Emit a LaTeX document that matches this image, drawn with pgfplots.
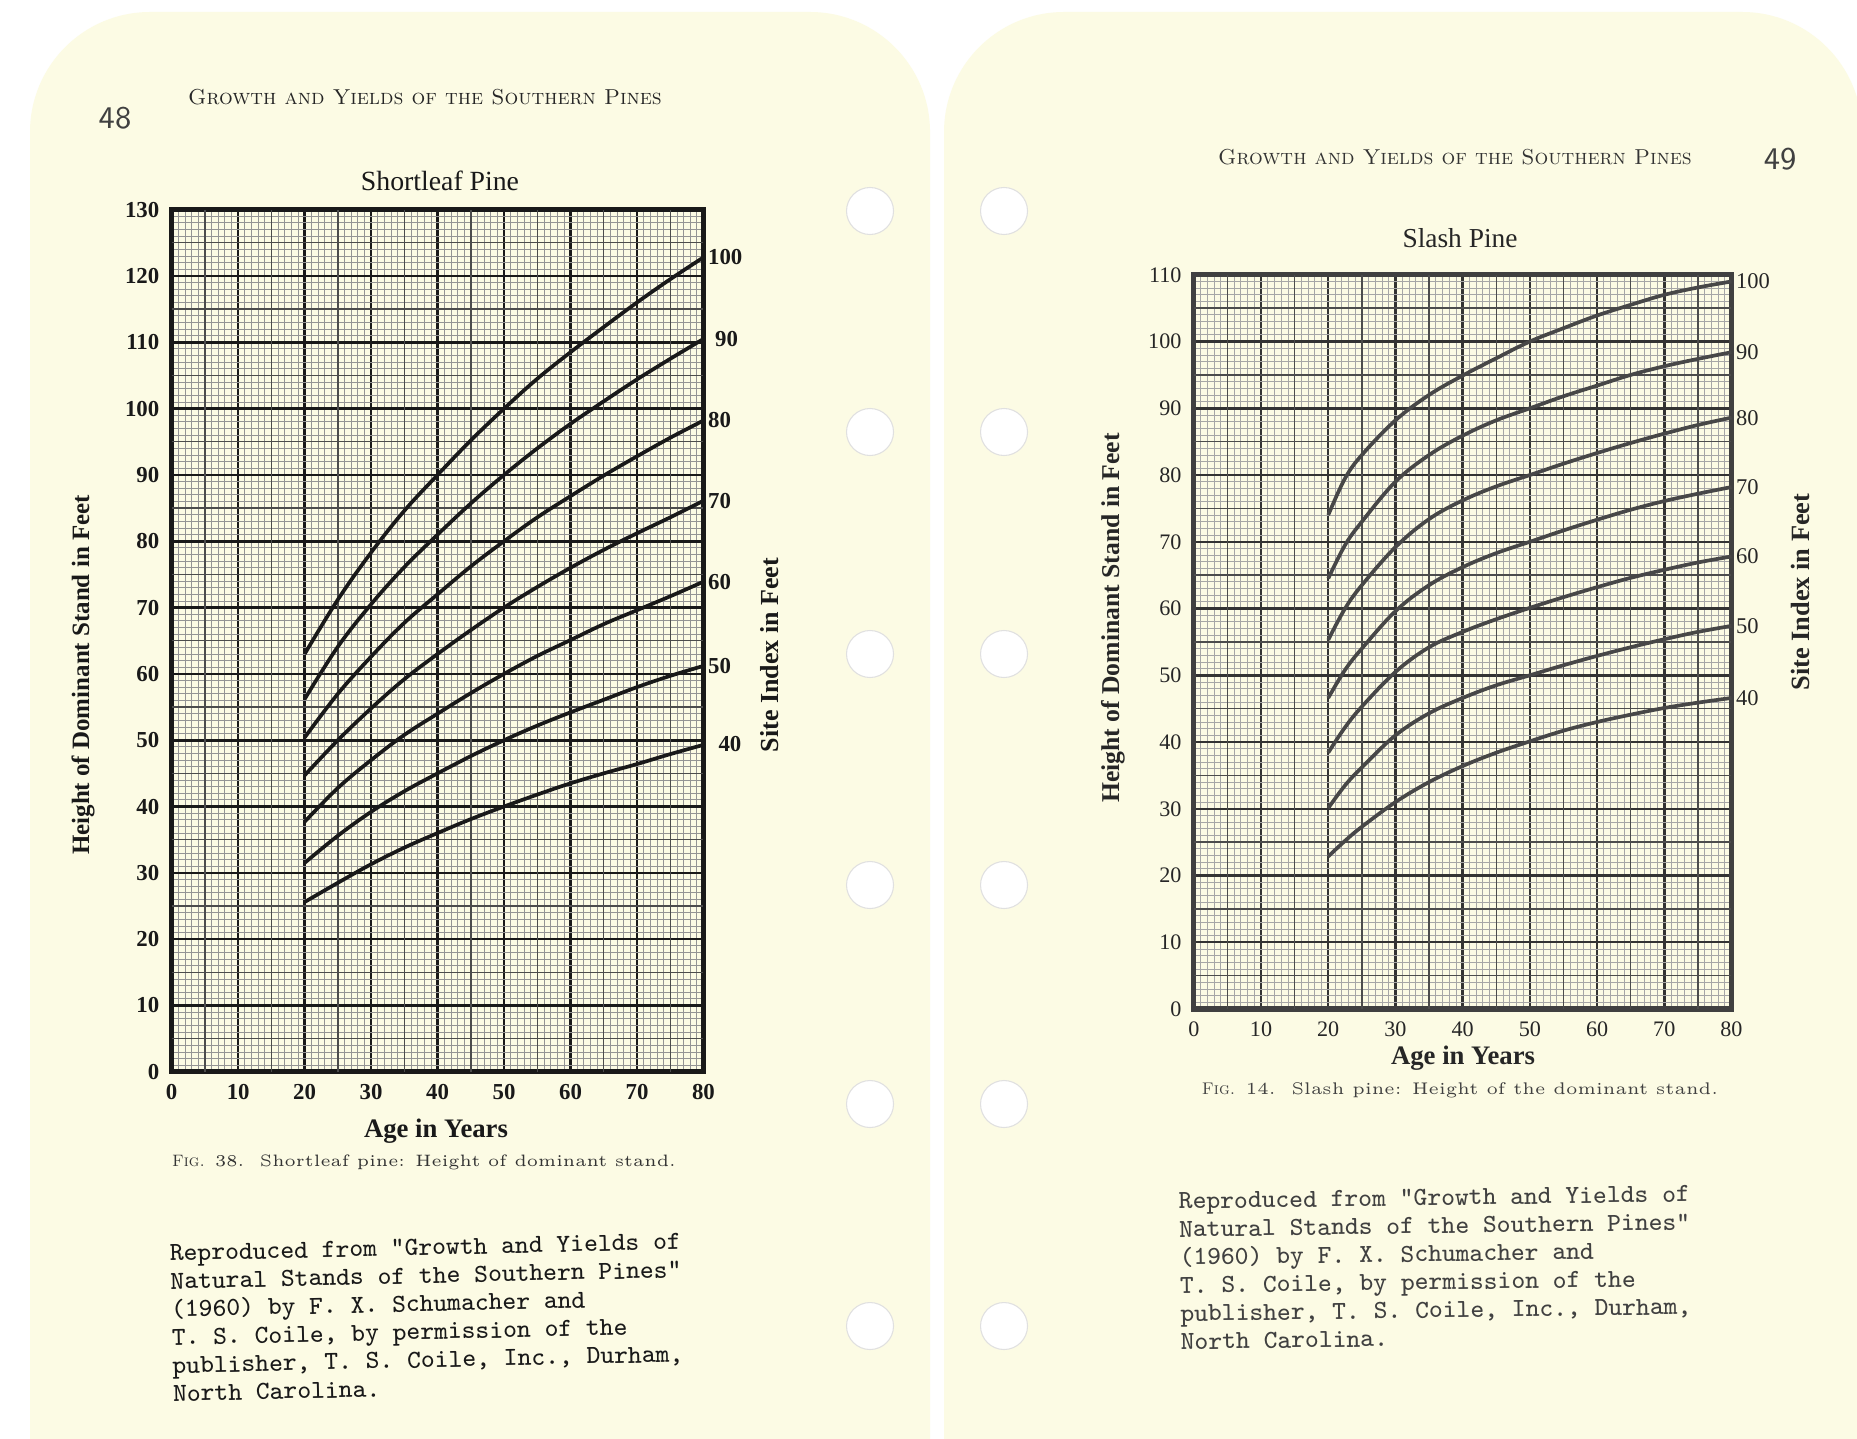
\documentclass[border=0pt]{standalone}
\usepackage{fontspec}
\usepackage{pgfplots}
\usepackage{pgfplotstable}
\pgfplotsset{compat=1.18}
\newfontfamily\lab{Liberation Serif}
\definecolor{paper}{RGB}{252,251,228}
\definecolor{ink}{RGB}{25,25,25}

\pgfplotstableread{
age s100 s90 s80 s70 s60 s50 s40
20 63 56.2 50.4 44.7 37.7 31.5 25.6
25 71.2 64.1 57 50 42.8 35.6 28.5
30 78.3 70.5 62.6 54.8 47 39.2 31.3
35 84.6 76.1 67.7 59.2 50.8 42.3 33.8
40 90 81 72 63 54 45 36
45 95.2 85.7 76.2 66.6 57.1 47.6 38.1
50 100 90 80 70 60 50 40
55 104.5 94 83.6 73.1 62.7 52.2 41.8
60 108.5 97.7 86.8 76 65.1 54.2 43.5
65 112.3 101.1 89.9 78.7 67.5 56.1 45
70 116 104.4 92.8 81.2 69.6 58 46.4
75 119.5 107.5 95.6 83.6 71.7 59.7 47.9
80 122.8 110.5 98.2 86.1 73.9 61.2 49.3
}\shortleaf

\pgfplotstableread{
age s100 s90 s80 s70 s60 s50 s40
20 74 64.5 55.3 46.6 38.4 30.1 22.85
22.5 79.5 69.5 60 50.8 42.2 33.5 25.2
25 83 73 63.5 54 45.3 36.2 27.3
30 88.2 79 69.2 59.6 50.5 41 31
35 92 83 73.4 63.5 54.2 44.3 34
40 94.9 85.9 76.2 66.2 56.5 46.6 36.4
45 97.5 88.2 78.3 68.3 58.4 48.5 38.4
50 100 90 80 70 60.1 50 40.1
55 102 91.8 81.7 71.7 61.7 51.5 41.7
60 103.9 93.4 83.3 73.3 63.2 52.9 43
65 105.5 95 84.8 74.8 64.6 54.2 44.1
70 107 96.3 86.2 76.1 65.8 55.4 45.1
75 108.1 97.4 87.5 77.2 66.9 56.5 45.9
80 109 98.4 88.6 78.2 67.8 57.4 46.6
}\slash

\pgfplotsset{
  paperaxis/.style={
    scale only axis, anchor=south west, clip=false,
    xmin=0, xmax=80, xtick={0,10,...,80},
    minor x tick num=9, minor y tick num=9,
    grid=both,
    major grid style={ink, line width=0.75pt},
    minor grid style={black!42, line width=0.22pt},
    major tick length=0pt, minor tick length=0pt,
    axis line style={ink, line width=1.5pt},
    /pgf/number format/assume math mode=true,
    extra x ticks={5,15,...,75},
    extra x tick labels={},
    extra tick style={grid=major, major grid style={black!70, line width=0.4pt}},
  },
}
\tikzset{
  curveL/.style={ink, line width=1.05pt, smooth, tension=0.6},
  curveR/.style={black!72, line width=1.05pt, smooth, tension=0.6},
  labL/.style={pos=1, anchor=west, inner sep=0.8pt, font=\lab\bfseries\fontsize{6.5}{7}\selectfont, text=ink},
  labR/.style={pos=1, anchor=west, inner sep=0.8pt, font=\lab\fontsize{6.4}{7}\selectfont, text=black!85},
}

\begin{document}
\begin{tikzpicture}
\clip (0,0) rectangle (185.7mm,-143.8mm);
\fill[white] (0,0) rectangle (185.7mm,-143.8mm);
\begin{scope}[x=0.1mm,y=-0.1mm]
  \fill[paper, rounded corners=12mm] (30,12) rectangle (930,1650);
  \fill[paper, rounded corners=12mm] (944,12) rectangle (1862,1650);
  \foreach \yy in {211,432,654,885,1104,1326}{
    \fill[white, draw=black!12, line width=0.3pt] (870,\yy) circle[radius=2.35mm];
    \fill[white, draw=black!12, line width=0.3pt] (1004,\yy) circle[radius=2.35mm];
  }
  % left page texts
  \node[font=\sffamily\fontsize{9}{10}\selectfont, text=black!75] at (115,118) {48};
  \node[font=\fontsize{6.15}{7}\selectfont, text=black!85] at (425,97) {\textsc{Growth and Yields of the Southern Pines}};
  \node[font=\lab\fontsize{7.9}{8}\selectfont, text=ink] at (440,181) {Shortleaf Pine};
  \node[font=\lab\bfseries\fontsize{7.1}{8}\selectfont, text=ink, rotate=90] at (83,675) {Height of Dominant Stand in Feet};
  \node[font=\lab\bfseries\fontsize{7.4}{8}\selectfont, text=ink, rotate=90] at (770,655) {Site Index in Feet};
  \node[font=\lab\bfseries\fontsize{7.6}{8}\selectfont, text=ink, inner sep=0pt] at (436,1131) {Age in Years};
  \node[font=\fontsize{4.7}{5}\selectfont, text=black!80, inner sep=0pt] at (424,1162) {\textsc{Fig.} 38.\ \ Shortleaf pine: Height of dominant stand.};
  \node[font=\ttfamily\fontsize{7.4}{8}\selectfont, text=ink, align=left, anchor=north west, rotate=1.3, inner sep=0pt] at (169,1244)
   {Reproduced from "Growth and Yields of\\Natural Stands of the Southern Pines"\\(1960) by F. X. Schumacher and\\T. S. Coile, by permission of the\\publisher, T. S. Coile, Inc., Durham,\\North Carolina.};
  % right page texts
  \node[font=\fontsize{6.15}{7}\selectfont, text=black!80] at (1455,157) {\textsc{Growth and Yields of the Southern Pines}};
  \node[font=\sffamily\fontsize{9}{10}\selectfont, text=black!75] at (1780,159) {49};
  \node[font=\lab\fontsize{7.8}{8}\selectfont, text=black!85] at (1460,238) {Slash Pine};
  \node[font=\lab\bfseries\fontsize{7.3}{8}\selectfont, text=black!85, rotate=90] at (1113,618) {Height of Dominant Stand in Feet};
  \node[font=\lab\bfseries\fontsize{7.5}{8}\selectfont, text=black!85, rotate=90] at (1800,592) {Site Index in Feet};
  \node[font=\lab\bfseries\fontsize{7.6}{8}\selectfont, text=black!85, inner sep=0pt] at (1463,1058) {Age in Years};
  \node[font=\fontsize{4.8}{5}\selectfont, text=black!75, inner sep=0pt] at (1460,1090) {\textsc{Fig.} 14.\ \ Slash pine: Height of the dominant stand.};
  \node[font=\ttfamily\fontsize{7.4}{8}\selectfont, text=black!75, align=left, anchor=north west, rotate=0.8, inner sep=0pt] at (1178,1192)
   {Reproduced from "Growth and Yields of\\Natural Stands of the Southern Pines"\\(1960) by F. X. Schumacher and\\T. S. Coile, by permission of the\\publisher, T. S. Coile, Inc., Durham,\\North Carolina.};
\end{scope}

% Shortleaf pine
\begin{axis}[paperaxis,
  at={(17.17mm,-107.18mm)}, width=53.18mm, height=86.22mm,
  ymin=0, ymax=130, ytick={0,10,...,130},
  extra y ticks={5,15,...,125}, extra y tick labels={},
  ticklabel style={font=\lab\bfseries\fontsize{6.5}{7}\selectfont, text=ink},
]
\addplot[curveL] table[x=age,y=s100] {\shortleaf} node[labL] {100};
\addplot[curveL] table[x=age,y=s90] {\shortleaf} node[labL, xshift=2pt] {90};
\addplot[curveL] table[x=age,y=s80] {\shortleaf} node[labL] {80};
\addplot[curveL] table[x=age,y=s70] {\shortleaf} node[labL] {70};
\addplot[curveL] table[x=age,y=s60] {\shortleaf} node[labL] {60};
\addplot[curveL] table[x=age,y=s50] {\shortleaf} node[labL] {50};
\addplot[curveL] table[x=age,y=s40] {\shortleaf} node[labL, xshift=2pt] {40};
\end{axis}

% Slash pine
\begin{axis}[paperaxis,
  at={(119.38mm,-100.9mm)}, width=53.77mm, height=73.42mm,
  ymin=0, ymax=110, ytick={0,10,...,110},
  extra y ticks={5,15,...,105}, extra y tick labels={},
  major grid style={black!80, line width=0.7pt},
  minor grid style={black!35, line width=0.22pt},
  axis line style={black!75, line width=1.5pt},
  ticklabel style={font=\lab\fontsize{6.3}{7}\selectfont, text=black!85},
]
\addplot[curveR] table[x=age,y=s100] {\slash} node[labR] {100};
\addplot[curveR] table[x=age,y=s90] {\slash} node[labR] {90};
\addplot[curveR] table[x=age,y=s80] {\slash} node[labR] {80};
\addplot[curveR] table[x=age,y=s70] {\slash} node[labR] {70};
\addplot[curveR] table[x=age,y=s60] {\slash} node[labR] {60};
\addplot[curveR] table[x=age,y=s50] {\slash} node[labR] {50};
\addplot[curveR] table[x=age,y=s40] {\slash} node[labR] {40};
\end{axis}
\end{tikzpicture}
\end{document}
